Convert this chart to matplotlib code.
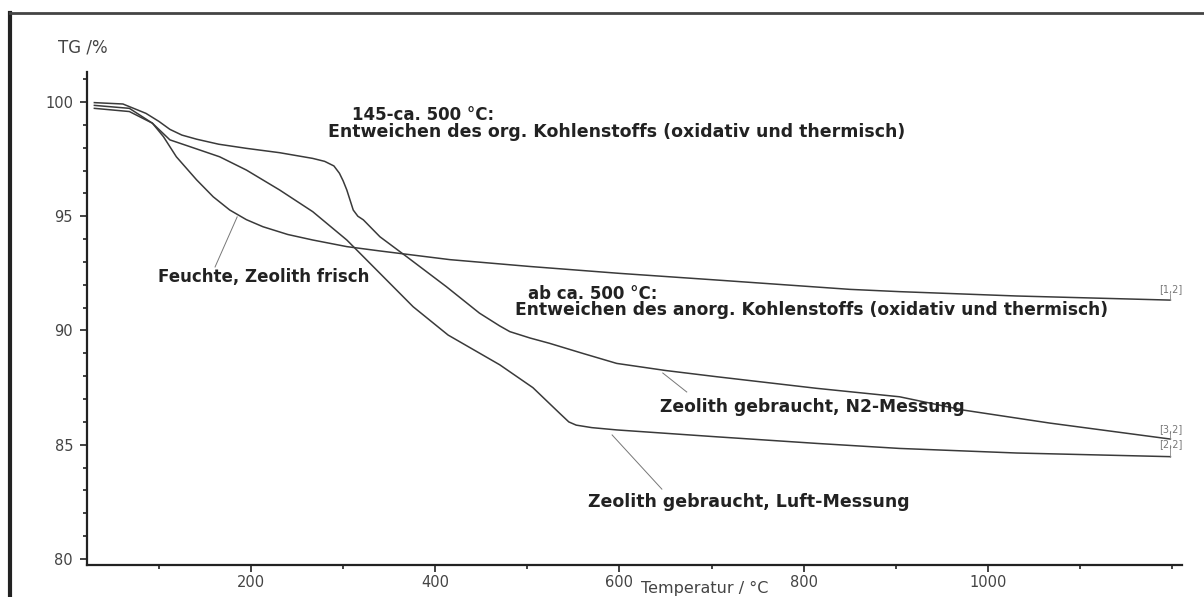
import matplotlib
matplotlib.use("Agg")
import matplotlib.pyplot as plt
from matplotlib.lines import Line2D
from matplotlib.ticker import MultipleLocator

plt.rcParams['font.family'] = ['DejaVu Sans']

# TG curves (temperature in degC, mass in %)
temp_feuchte = [30, 68, 93, 105, 119, 141, 159, 177, 195, 213, 240, 267, 304, 340, 376, 416,
                503, 600, 705, 850, 904, 1031, 1198]
tg_feuchte = [99.85, 99.72, 99.07, 98.48, 97.6, 96.59, 95.85, 95.27, 94.85, 94.54, 94.2, 93.96,
              93.67, 93.48, 93.3, 93.1, 92.8, 92.5, 92.21, 91.8, 91.7, 91.51, 91.33]

temp_n2 = [30, 61, 86, 100, 112, 125, 141, 165, 195, 231, 267, 280, 290, 296, 300, 304, 311,
           316, 322, 340, 369, 412, 448, 470, 481, 503, 524, 560, 597, 650, 705, 814, 904,
           973, 1067, 1198]
tg_n2 = [99.97, 99.91, 99.5, 99.15, 98.8, 98.55, 98.37, 98.15, 97.97, 97.78, 97.53, 97.4,
         97.2, 96.88, 96.55, 96.15, 95.27, 95.0, 94.84, 94.1, 93.23, 91.92, 90.76, 90.2,
         89.95, 89.67, 89.44, 89.0, 88.56, 88.25, 87.98, 87.47, 87.1, 86.52, 85.95, 85.25]

temp_luft = [30, 68, 93, 112, 134, 166, 195, 231, 267, 304, 340, 376, 414, 470, 506, 535,
             545, 553, 570, 597, 705, 814, 904, 1031, 1198]
tg_luft = [99.72, 99.58, 99.07, 98.34, 98.04, 97.6, 97.02, 96.15, 95.2, 93.96, 92.5, 91.04,
           89.8, 88.5, 87.5, 86.38, 86.0, 85.86, 85.75, 85.65, 85.35, 85.06, 84.84, 84.64, 84.48]

curve_tags = ['[1,2]', '[3,2]', '[2,2]']

line_col = '#3a3a3a'
fig = plt.figure(figsize=(12.04, 5.97), dpi=100)
ax = fig.add_axes([87/1204, 1 - 565/597, (1182-87)/1204, (565-72)/597])

curves = [(temp_feuchte, tg_feuchte), (temp_n2, tg_n2), (temp_luft, tg_luft)]
for t, v in curves:
    ax.plot(t, v, color=line_col, lw=1.1)

# end tags with little vertical marks
tag_off = [0.25, 0.3, 0.5]
tag_y = [tg_feuchte[-1] + 0.5, tg_n2[-1] + 0.45, tg_luft[-1] + 0.55]
for (t, v), tag, off, ty in zip(curves, curve_tags, tag_off, tag_y):
    ax.plot([t[-1], t[-1]], [v[-1], v[-1] + off], color='#888888', lw=0.6)
    ax.text(t[-1], ty, tag, fontsize=7, color='#777777', ha='center', va='center')

ax.set_xlim(22, 1210.6)
ax.set_ylim(79.74, 101.31)
ax.spines['top'].set_visible(False)
ax.spines['right'].set_visible(False)
for s in ['left', 'bottom']:
    ax.spines[s].set_linewidth(1.6)
    ax.spines[s].set_color('#222222')

ax.xaxis.set_major_locator(MultipleLocator(200))
ax.xaxis.set_minor_locator(MultipleLocator(100))
ax.yaxis.set_major_locator(MultipleLocator(5))
ax.yaxis.set_minor_locator(MultipleLocator(1))
ax.tick_params(which='major', length=5, width=1.2, color='#222222', labelsize=10.5,
               labelcolor='#444444', pad=2)
ax.tick_params(axis='y', which='major', pad=5)
ax.tick_params(which='minor', length=3, width=1.2, color='#222222')
ax.set_xticks([200, 400, 600, 800, 1000])
ax.set_yticks([80, 85, 90, 95, 100])

fig.text(58/1204, 1 - 47/597, 'TG /%', fontsize=12, color='#444444', va='center')
fig.text(705/1204, 4/597, 'Temperatur / °C', fontsize=11.5, color='#444444',
         ha='center', va='baseline')

bold = dict(fontweight='bold', color='#222222', fontsize=12, va='center')
ax.text(310, 99.43, '145-ca. 500 °C:', **bold)
ax.text(283.6, 98.69, 'Entweichen des org. Kohlenstoffs (oxidativ und thermisch)',
        **dict(bold, fontsize=12.5))
ax.text(99, 92.34, 'Feuchte, Zeolith frisch', **bold)
ax.text(500.7, 91.6, 'ab ca. 500 °C:', **bold)
ax.text(486.6, 90.9, 'Entweichen des anorg. Kohlenstoffs (oxidativ und thermisch)',
        **dict(bold, fontsize=12.3))
ax.text(644, 86.65, 'Zeolith gebraucht, N2-Messung', **dict(bold, fontsize=12.3))
ax.text(566, 82.5, 'Zeolith gebraucht, Luft-Messung', **dict(bold, fontsize=12.5))

# leader lines
ax.plot([161, 185], [92.78, 94.97], color='#777777', lw=0.7)
ax.plot([647, 673], [88.14, 87.31], color='#777777', lw=0.7)
ax.plot([592, 646], [85.43, 83.06], color='#777777', lw=0.7)

# outer frame (left and top visible)
fig.add_artist(Line2D([10/1204, 10/1204], [0, 1 - 13/597], transform=fig.transFigure,
                      color='#222222', lw=3))
fig.add_artist(Line2D([10/1204, 1], [1 - 13/597, 1 - 13/597], transform=fig.transFigure,
                      color='#444444', lw=2))

fig.savefig('out.png', dpi=100)
